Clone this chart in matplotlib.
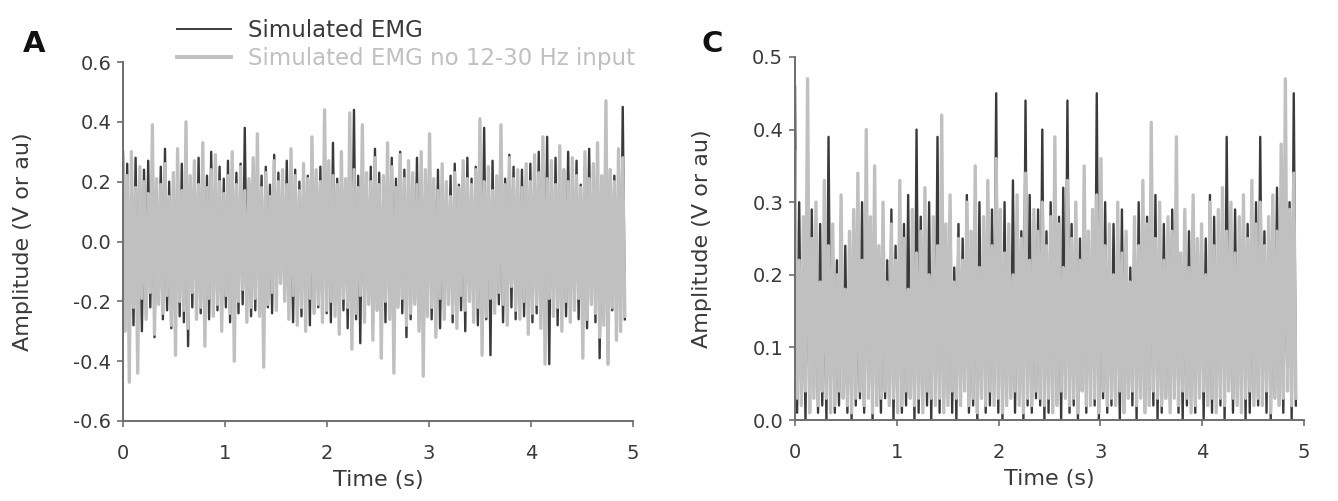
import numpy as np
import matplotlib
matplotlib.use("Agg")
import matplotlib.pyplot as plt
from matplotlib.lines import Line2D

plt.rcParams['font.family'] = ['DejaVu Sans']

# ---------------- data (peak values) ----------------
duration = 4.92  # s

# Panel A: successive positive / negative peaks of each trace
A_gray_up = [0.28, 0.22, 0.30, 0.18, 0.25, 0.20, 0.16, 0.39, 0.21, 0.19, 0.26, 0.15, 0.23, 0.31, 0.17, 0.40, 0.22, 0.27, 0.19, 0.33, 0.18, 0.24, 0.29, 0.20,
             0.16, 0.22, 0.30, 0.19, 0.25, 0.17, 0.21, 0.28, 0.36, 0.18, 0.23, 0.15, 0.27, 0.20, 0.24, 0.19, 0.31, 0.22, 0.17, 0.26, 0.21, 0.35, 0.24, 0.20, 0.44,
             0.27, 0.22, 0.19, 0.30, 0.21, 0.43, 0.24, 0.18, 0.39, 0.23, 0.20, 0.28, 0.19, 0.22, 0.33, 0.25, 0.18, 0.29, 0.21, 0.27, 0.23, 0.19, 0.30, 0.24,
             0.36, 0.21, 0.17, 0.26, 0.20, 0.15, 0.23, 0.18, 0.27, 0.21, 0.19, 0.24, 0.41, 0.20, 0.25, 0.17, 0.22, 0.39, 0.19, 0.28, 0.21, 0.24, 0.18, 0.26,
             0.20, 0.29, 0.23, 0.35, 0.21, 0.27, 0.19, 0.32, 0.24, 0.20, 0.28, 0.22, 0.18, 0.30, 0.21, 0.26, 0.33, 0.22, 0.47, 0.24, 0.20, 0.31, 0.28]
A_gray_low = [-0.30, -0.47, -0.22, -0.44, -0.19, -0.26, -0.17, -0.31, -0.21, -0.24, -0.18, -0.28, -0.38, -0.20, -0.23, -0.29, -0.17, -0.26, -0.22, -0.35, -0.19, -0.25, -0.21, -0.30,
              -0.18, -0.24, -0.40, -0.20, -0.16, -0.27, -0.22, -0.19, -0.25, -0.42, -0.21, -0.17, -0.23, -0.14, -0.20, -0.26, -0.18, -0.28, -0.22, -0.30, -0.19, -0.24, -0.21, -0.27, -0.23,
              -0.20, -0.25, -0.31, -0.19, -0.22, -0.36, -0.24, -0.18, -0.27, -0.21, -0.33, -0.23, -0.39, -0.20, -0.26, -0.44, -0.22, -0.19, -0.28, -0.24, -0.21, -0.30, -0.45, -0.25,
              -0.22, -0.32, -0.19, -0.26, -0.21, -0.24, -0.29, -0.18, -0.23, -0.20, -0.27, -0.22, -0.38, -0.25, -0.19, -0.24, -0.17, -0.21, -0.28, -0.15, -0.23, -0.26, -0.20, -0.31,
              -0.24, -0.21, -0.29, -0.41, -0.19, -0.25, -0.22, -0.30, -0.20, -0.27, -0.23, -0.19, -0.39, -0.26, -0.21, -0.24, -0.32, -0.28, -0.41, -0.22, -0.33, -0.30, -0.25]
A_dark_up = [0.30, 0.26, 0.21, 0.28, 0.19, 0.24, 0.27, 0.22, 0.14, 0.25, 0.31, 0.20, 0.23, 0.18, 0.26, 0.29, 0.21, 0.24, 0.28, 0.19, 0.22, 0.30, 0.17, 0.25,
             0.21, 0.27, 0.18, 0.23, 0.26, 0.38, 0.20, 0.24, 0.28, 0.22, 0.25, 0.19, 0.29, 0.23, 0.21, 0.27, 0.18, 0.24, 0.20, 0.26, 0.22, 0.28, 0.19, 0.25, 0.30,
             0.23, 0.33, 0.21, 0.26, 0.19, 0.24, 0.44, 0.22, 0.27, 0.20, 0.25, 0.31, 0.23, 0.18, 0.26, 0.28, 0.21, 0.30, 0.24, 0.26, 0.22, 0.28, 0.25, 0.21,
             0.27, 0.20, 0.24, 0.15, 0.12, 0.22, 0.26, 0.19, 0.23, 0.28, 0.21, 0.25, 0.20, 0.38, 0.24, 0.27, 0.19, 0.23, 0.21, 0.29, 0.25, 0.18, 0.24, 0.22,
             0.26, 0.21, 0.30, 0.23, 0.35, 0.25, 0.28, 0.20, 0.24, 0.30, 0.22, 0.27, 0.19, 0.25, 0.31, 0.23, 0.26, 0.21, 0.28, 0.24, 0.22, 0.25, 0.45]
A_dark_low = [-0.20, -0.24, -0.28, -0.21, -0.30, -0.25, -0.22, -0.32, -0.19, -0.26, -0.23, -0.29, -0.21, -0.25, -0.27, -0.35, -0.22, -0.20, -0.24, -0.18, -0.26, -0.21, -0.23, -0.25,
              -0.22, -0.27, -0.19, -0.24, -0.21, -0.18, -0.25, -0.23, -0.20, -0.26, -0.22, -0.24, -0.15, -0.12, -0.17, -0.21, -0.27, -0.23, -0.25, -0.20, -0.28, -0.24, -0.22, -0.26, -0.24,
              -0.27, -0.21, -0.25, -0.23, -0.29, -0.22, -0.26, -0.34, -0.24, -0.20, -0.28, -0.23, -0.22, -0.27, -0.25, -0.30, -0.21, -0.24, -0.32, -0.26, -0.20, -0.28, -0.23, -0.25,
              -0.26, -0.22, -0.29, -0.24, -0.21, -0.27, -0.25, -0.23, -0.30, -0.20, -0.24, -0.28, -0.22, -0.26, -0.38, -0.23, -0.21, -0.27, -0.24, -0.22, -0.26, -0.20, -0.25, -0.23,
              -0.27, -0.24, -0.21, -0.26, -0.41, -0.23, -0.28, -0.20, -0.25, -0.22, -0.18, -0.26, -0.24, -0.29, -0.21, -0.27, -0.39, -0.25, -0.41, -0.23, -0.28, -0.30, -0.26]

# Panel C: successive high / low peaks of each rectified trace
C_gray_high = [0.37, 0.22, 0.28, 0.47, 0.25, 0.30, 0.19, 0.33, 0.24, 0.27,
               0.20, 0.31, 0.18, 0.26, 0.29, 0.34, 0.22, 0.40, 0.28, 0.35,
               0.24, 0.30, 0.19, 0.27, 0.22, 0.33, 0.25, 0.18, 0.29, 0.23,
               0.26, 0.32, 0.20, 0.28, 0.24, 0.42, 0.27, 0.31, 0.19, 0.25,
               0.22, 0.30, 0.26, 0.35, 0.21, 0.28, 0.33, 0.24, 0.36, 0.29,
               0.23, 0.27, 0.20, 0.31, 0.25, 0.34, 0.22, 0.29, 0.26, 0.30,
               0.24, 0.28, 0.39, 0.27, 0.21, 0.33, 0.25, 0.30, 0.22, 0.35,
               0.26, 0.29, 0.31, 0.36, 0.24, 0.27, 0.20, 0.30, 0.23, 0.26,
               0.19, 0.28, 0.24, 0.33, 0.27, 0.41, 0.25, 0.30, 0.22, 0.28,
               0.26, 0.39, 0.23, 0.29, 0.21, 0.31, 0.25, 0.27, 0.20, 0.30,
               0.24, 0.29, 0.32, 0.26, 0.30, 0.23, 0.28, 0.31, 0.25, 0.33,
               0.27, 0.30, 0.24, 0.28, 0.31, 0.26, 0.38, 0.47, 0.29, 0.34]
C_gray_low = [0.03, 0.02, 0.04, 0.01, 0.03, 0.02, 0.04, 0.03, 0.01, 0.02,
              0.04, 0.03, 0.02, 0.01, 0.03, 0.04, 0.02, 0.03, 0.01, 0.02,
              0.03, 0.04, 0.02, 0.03, 0.01, 0.02, 0.04, 0.03, 0.02, 0.03,
              0.01, 0.04, 0.03, 0.02, 0.03, 0.01, 0.02, 0.04, 0.03, 0.02,
              0.04, 0.02, 0.03, 0.01, 0.03, 0.02, 0.04, 0.02, 0.03, 0.01,
              0.02, 0.03, 0.04, 0.02, 0.01, 0.03, 0.02, 0.04, 0.03, 0.02,
              0.03, 0.01, 0.02, 0.04, 0.03, 0.02, 0.03, 0.01, 0.04, 0.02,
              0.02, 0.03, 0.01, 0.04, 0.02, 0.03, 0.02, 0.04, 0.01, 0.03,
              0.04, 0.02, 0.03, 0.01, 0.02, 0.04, 0.03, 0.02, 0.03, 0.01,
              0.03, 0.02, 0.04, 0.03, 0.01, 0.02, 0.03, 0.04, 0.02, 0.03,
              0.01, 0.03, 0.02, 0.04, 0.03, 0.02, 0.01, 0.03, 0.04, 0.02,
              0.03, 0.02, 0.04, 0.01, 0.03, 0.02, 0.03, 0.04, 0.02, 0.03]
C_dark_high = [0.46, 0.30, 0.21, 0.26, 0.29, 0.23, 0.27, 0.20, 0.39, 0.25,
               0.22, 0.28, 0.24, 0.19, 0.26, 0.21, 0.30, 0.25, 0.23, 0.27,
               0.18, 0.25, 0.22, 0.29, 0.24, 0.20, 0.27, 0.31, 0.23, 0.40,
               0.28, 0.25, 0.30, 0.22, 0.39, 0.26, 0.24, 0.29, 0.21, 0.27,
               0.25, 0.31, 0.23, 0.28, 0.30, 0.26, 0.32, 0.29, 0.45, 0.27,
               0.30, 0.25, 0.33, 0.28, 0.26, 0.44, 0.31, 0.27, 0.29, 0.40,
               0.26, 0.30, 0.24, 0.28, 0.32, 0.44, 0.27, 0.29, 0.25, 0.31,
               0.23, 0.28, 0.45, 0.26, 0.30, 0.24, 0.27, 0.22, 0.29, 0.25,
               0.21, 0.27, 0.30, 0.24, 0.28, 0.26, 0.31, 0.23, 0.27, 0.25,
               0.29, 0.24, 0.22, 0.28, 0.26, 0.30, 0.23, 0.27, 0.25, 0.31,
               0.28, 0.24, 0.30, 0.39, 0.26, 0.29, 0.23, 0.31, 0.27, 0.25,
               0.30, 0.39, 0.26, 0.28, 0.24, 0.32, 0.29, 0.27, 0.30, 0.45]
C_dark_low = [0.01, 0.03, 0.00, 0.02, 0.04, 0.01, 0.02, 0.00, 0.03, 0.01,
              0.02, 0.05, 0.01, 0.00, 0.02, 0.03, 0.01, 0.04, 0.00, 0.02,
              0.01, 0.03, 0.02, 0.00, 0.04, 0.01, 0.02, 0.03, 0.00, 0.01,
              0.03, 0.02, 0.00, 0.04, 0.01, 0.02, 0.03, 0.01, 0.00, 0.02,
              0.04, 0.01, 0.02, 0.00, 0.03, 0.01, 0.02, 0.06, 0.01, 0.00,
              0.02, 0.03, 0.01, 0.04, 0.00, 0.02, 0.01, 0.03, 0.02, 0.00,
              0.01, 0.04, 0.02, 0.00, 0.03, 0.01, 0.02, 0.00, 0.04, 0.01,
              0.06, 0.02, 0.00, 0.03, 0.01, 0.02, 0.04, 0.00, 0.01, 0.03,
              0.02, 0.00, 0.04, 0.01, 0.03, 0.02, 0.00, 0.01, 0.03, 0.02,
              0.04, 0.01, 0.00, 0.02, 0.03, 0.01, 0.04, 0.00, 0.02, 0.01,
              0.03, 0.02, 0.00, 0.04, 0.01, 0.03, 0.02, 0.00, 0.01, 0.03,
              0.02, 0.04, 0.01, 0.00, 0.03, 0.02, 0.01, 0.04, 0.00, 0.02]

series_labels = ["Simulated EMG", "Simulated EMG no 12-30 Hz input"]
A_yticks = [-0.6, -0.4, -0.2, 0.0, 0.2, 0.4, 0.6]
C_yticks = [0.0, 0.1, 0.2, 0.3, 0.4, 0.5]
x_ticks = [0, 1, 2, 3, 4, 5]

DARK = "#3a3a3a"
LIGHT = "#c0c0c0"
AXC = "#6e6e6e"
TXT = "#3a3a3a"


def trace(a, b):
    n = min(len(a), len(b))
    y = np.empty(2 * n)
    y[0::2] = a[:n]
    y[1::2] = b[:n]
    t = np.linspace(0, duration, 2 * n)
    return t, y


fig = plt.figure(figsize=(13.38, 5.01), dpi=100)
axA = fig.add_axes([123 / 1338, 1 - 421 / 501, 510 / 1338, 359 / 501])
axC = fig.add_axes([795 / 1338, 1 - 420 / 501, 509 / 1338, 363 / 501])

tA, yA_d = trace(A_dark_up, A_dark_low)
_, yA_g = trace(A_gray_up, A_gray_low)
axA.plot(tA, yA_d, color=DARK, lw=1.7)
axA.plot(tA, yA_g, color=LIGHT, lw=2.4)

tC, yC_d = trace(C_dark_high, C_dark_low)
_, yC_g = trace(C_gray_high, C_gray_low)
axC.plot(tC, yC_d, color=DARK, lw=1.7)
axC.plot(tC, yC_g, color=LIGHT, lw=2.4)

for ax, yt, ylim, lx in [(axA, A_yticks, (-0.6, 0.6), -0.176),
                         (axC, C_yticks, (0.0, 0.5), -0.163)]:
    ax.set_xlim(0, 5)
    ax.set_ylim(*ylim)
    ax.set_xticks(x_ticks)
    ax.set_xticklabels([str(v) for v in x_ticks])
    ax.set_yticks(yt)
    ax.set_yticklabels(["{:.1f}".format(v) for v in yt])
    for s in ["top", "right"]:
        ax.spines[s].set_visible(False)
    for s in ["left", "bottom"]:
        ax.spines[s].set_color(AXC)
        ax.spines[s].set_linewidth(1.4)
    ax.tick_params(direction='out', length=4.5, width=1.2, color=AXC,
                   labelsize=14, labelcolor=TXT)
    ax.tick_params(axis='x', pad=12)
    ax.tick_params(axis='y', pad=4)
    ax.set_xlabel("Time (s)", fontsize=16, color=TXT, labelpad=5)
    ax.set_ylabel("Amplitude (V or au)", fontsize=16, color=TXT)
    ax.yaxis.set_label_coords(lx, 0.5)
    ax.patch.set_alpha(0)

fig.text(34 / 1338, 1 - 44 / 501, "A", fontsize=21, fontweight='bold', color="#111111",
         va='center', ha='center')
fig.text(712 / 1338, 1 - 44 / 501, "C", fontsize=21, fontweight='bold', color="#111111",
         va='center', ha='center')

handles = [Line2D([], [], color=DARK, lw=1.4), Line2D([], [], color=LIGHT, lw=2.8)]
leg = fig.legend(handles, series_labels, loc='upper left',
                 bbox_to_anchor=(177 / 1338, 1 - 19 / 501), frameon=False,
                 fontsize=16.5, handlelength=2.36, handletextpad=0.74,
                 labelspacing=0.2, borderpad=0, borderaxespad=0)
leg.get_texts()[0].set_color(TXT)
leg.get_texts()[1].set_color(LIGHT)

fig.savefig("out.png", dpi=100)
